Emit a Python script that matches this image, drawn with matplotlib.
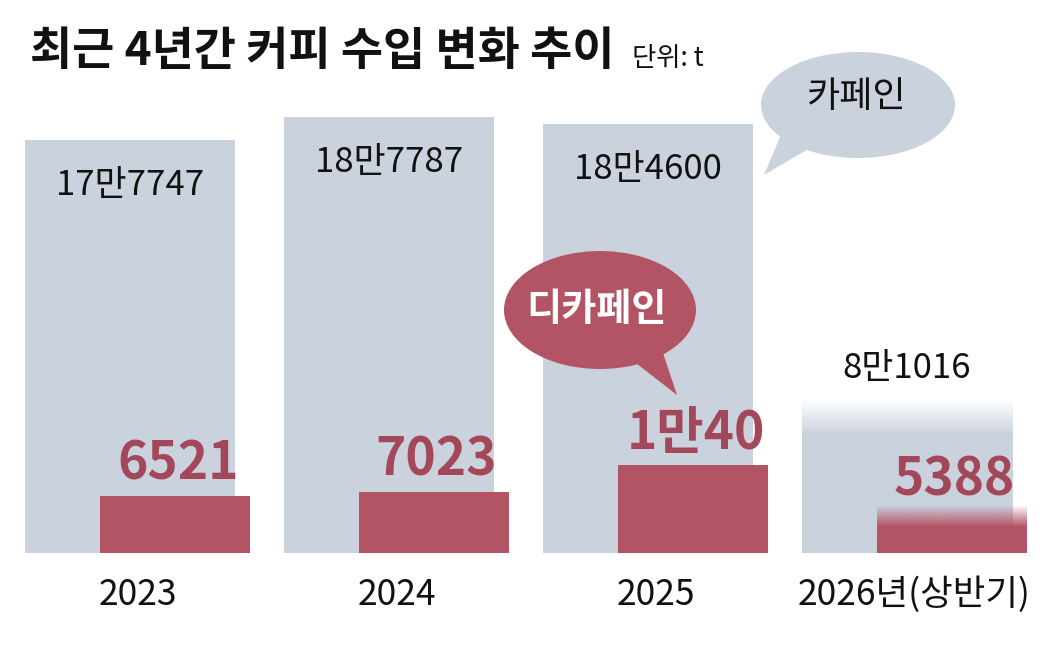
import numpy as np
import matplotlib
matplotlib.use("Agg")
import matplotlib.pyplot as plt
from matplotlib.patches import Ellipse, Polygon

plt.rcParams['font.family'] = ['Noto Sans CJK KR', 'DejaVu Sans']

# 데이터 (단위: t)
anos = ["2023", "2024", "2025", "2026년(상반기)"]
cafeina = [177747, 187787, 184600, 80816]
descafeinado = [6521, 7023, 10040, 5388]
rotulo_cafeina = ["17만7747", "18만7787", "18만4600", "8만1016"]
rotulo_descaf = ["6521", "7023", "1만40", "5388"]

cinza = "#cad2dd"
vermelho = "#b35465"
vermelho_txt = "#a3485a"

fig = plt.figure(figsize=(10.54, 6.5), dpi=100)
ax = fig.add_axes([0, 1 - 553 / 650, 1, 453 / 650])
ax2 = ax.twinx()

x = np.arange(len(anos))
b1 = ax.bar(x - 0.029, cafeina, width=0.811, color=cinza, zorder=1)
b2 = ax2.bar(x + 0.145, descafeinado, width=0.579, color=vermelho, zorder=2)


# ultima barra (2026) desvanece no topo
def degrade(eixo, barra, cor, ini, fim):
    barra.set_visible(False)
    x0 = barra.get_x()
    w = barra.get_width()
    h = barra.get_height()
    t = np.linspace(0, 1, 200)  # 0 = base, 1 = topo
    alfa = np.clip((1 - t - ini) / (fim - ini), 0, 1)
    rgba = np.zeros((200, 1, 4))
    rgba[:, 0, :3] = matplotlib.colors.to_rgb(cor)
    rgba[:, 0, 3] = alfa
    eixo.imshow(rgba, extent=(x0, x0 + w, 0, h), origin="lower",
                aspect="auto", interpolation="bilinear", zorder=barra.get_zorder())


degrade(ax, b1[3], cinza, 0.18, 0.37)
degrade(ax2, b2[3], vermelho, 0.0, 0.45)
ax.set_xlim(-0.531, 3.539)
ax.set_ylim(0, 195000)
ax2.set_ylim(0, 51900)

# rotulos das barras
for i in range(3):
    ax.annotate(rotulo_cafeina[i], (x[i] - 0.029, cafeina[i]), xytext=(0, -33),
                textcoords="offset points", ha="center", va="center",
                fontsize=25, color="#111111")
ax.annotate(rotulo_cafeina[3], (x[3] - 0.029, cafeina[3]), xytext=(0, -2),
            textcoords="offset points", ha="center", va="center",
            fontsize=25, color="#111111")
for i in range(4):
    dy = 23 if i < 3 else 19
    ax2.annotate(rotulo_descaf[i], (x[i] + 0.155, descafeinado[i]), xytext=(0, dy),
                 textcoords="offset points", ha="center", va="center",
                 fontsize=37, fontweight="bold", color=vermelho_txt, zorder=5)

# eixo x
ax.set_xticks(x)
ax.set_xticklabels(anos, fontsize=25.5, color="#111111")
ax.tick_params(axis="x", length=0, pad=17)
ax.set_yticks([])
ax2.set_yticks([])
for a in (ax, ax2):
    for s in a.spines.values():
        s.set_visible(False)

# titulo
fig.text(30 / 1054, 1 - 52 / 650, "최근 4년간 커피 수입 변화 추이", fontsize=33,
         fontweight="bold", va="center", ha="left", color="#111111")
fig.text(632 / 1054, 1 - 58 / 650, "단위: t", fontsize=19, va="center",
         ha="left", color="#111111")

# baloes (coordenadas em pixels)
ov = fig.add_axes([0, 0, 1, 1], zorder=10)
ov.set_xlim(0, 1054)
ov.set_ylim(650, 0)
ov.axis("off")
ov.patch.set_alpha(0)

ov.add_patch(Ellipse((858, 105), 194, 106, color=cinza, lw=0))
ov.add_patch(Polygon([(783, 130), (810, 148), (764, 175)], color=cinza, lw=0))
ov.text(857, 97, "카페인", fontsize=26, ha="center", va="center", color="#111111")

ov.add_patch(Ellipse((600, 310), 192, 118, color=vermelho, lw=0))
ov.add_patch(Polygon([(632, 360), (662, 350), (677, 395)], color=vermelho, lw=0))
ov.text(597, 310, "디카페인", fontsize=27.5, ha="center", va="center",
        color="white", fontweight="bold")

fig.savefig("out.png", dpi=100)
